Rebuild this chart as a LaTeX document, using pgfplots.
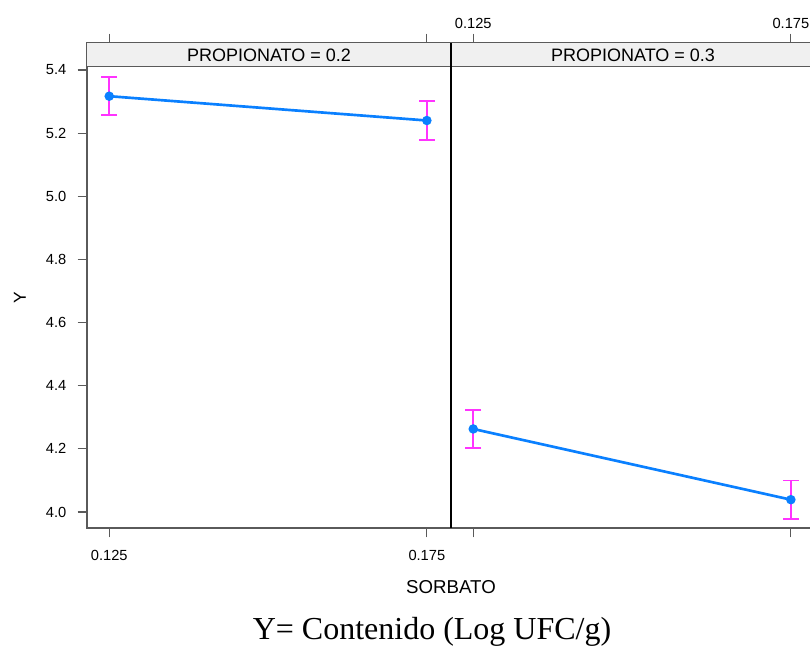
\documentclass[border=0pt]{standalone}
\usepackage{pgfplots}
\pgfplotsset{compat=1.18}
\usepackage{fontspec}
\setmainfont{Liberation Sans}
\newfontfamily\serifY{Liberation Serif}
\definecolor{lineblue}{HTML}{0A80FF}
\definecolor{errmag}{HTML}{FF33FF}
\definecolor{stripgray}{HTML}{F0F0F0}
\definecolor{framegray}{HTML}{5A5A5A}
\pgfplotsset{
  panel/.style={
    scale only axis, width=273pt, height=363.75pt,
    xmin=0.1215, xmax=0.1788, ymin=3.9493, ymax=5.4855,
    xtick={0.125,0.175}, xticklabels={0.125,0.175},
    xtick pos=both, tick align=outside,
    major tick length=7pt,
    axis line style={draw=framegray, line width=0.9pt},
    tick style={draw=framegray, line width=0.9pt},
    tick label style={font=\fontsize{11}{13}\selectfont},
    /pgf/number format/assume math mode=true,
    clip=false,
  },
  ebar/.style={draw=errmag, line width=1.25pt, mark=-, mark size=6pt,
    mark options={draw=errmag, line width=1.25pt}, forget plot},
}
\begin{document}
\begin{tikzpicture}
\path[use as bounding box] (0,0) rectangle (607.5pt,487.5pt);
\clip (0,0) rectangle (607.5pt,487.5pt);
% left panel
\begin{axis}[panel, at={(65.25pt,91.5pt)}, anchor=south west,
  xticklabel pos=left,
  xticklabel style={yshift=-6pt},
  ytick={4.0,4.2,4.4,4.6,4.8,5.0,5.2,5.4},
  yticklabels={4.0,4.2,4.4,4.6,4.8,5.0,5.2,5.4},
  yticklabel style={xshift=-5pt},
  ytick pos=left,
  xlabel={SORBATO}, ylabel={Y},
  xlabel style={font=\fontsize{14}{16}\selectfont, at={(rel axis cs:1,0)}, anchor=north, yshift=-36pt},
  ylabel style={font=\fontsize{13}{15}\selectfont, at={(axis description cs:-0.184,0.474)}, anchor=center},
]
\fill[stripgray] (rel axis cs:0,0.9508) rectangle (rel axis cs:1,1);
\draw[framegray, line width=0.9pt] (rel axis cs:0,0.9508) -- (rel axis cs:1,0.9508);
\node[font=\fontsize{13.5}{15}\selectfont] at (rel axis cs:0.5,0.9754) {PROPIONATO = 0.2};
% error bars (mean +- 0.06)
\addplot[ebar] coordinates {(0.125,5.257) (0.125,5.377)};
\addplot[ebar] coordinates {(0.175,5.179) (0.175,5.301)};
\addplot[lineblue, line width=2pt, mark=*, mark size=2.5pt, mark options={lineblue}]
  coordinates {(0.125,5.317) (0.175,5.240)};
\end{axis}
% right panel
\begin{axis}[panel, at={(338.25pt,91.5pt)}, anchor=south west,
  xticklabel pos=right,
  ytick=\empty,
]
\fill[stripgray] (rel axis cs:0,0.9508) rectangle (rel axis cs:1,1);
\draw[framegray, line width=0.9pt] (rel axis cs:0,0.9508) -- (rel axis cs:1,0.9508);
\node[font=\fontsize{13.5}{15}\selectfont] at (rel axis cs:0.5,0.9754) {PROPIONATO = 0.3};
\addplot[ebar] coordinates {(0.125,4.202) (0.125,4.324)};
\addplot[ebar] coordinates {(0.175,3.978) (0.175,4.100)};
\addplot[lineblue, line width=2pt, mark=*, mark size=2.5pt, mark options={lineblue}]
  coordinates {(0.125,4.263) (0.175,4.039)};
\draw[black, line width=1pt] (rel axis cs:0,0) -- (rel axis cs:0,1);
\end{axis}
\node[font=\serifY\fontsize{24}{28}\selectfont] at (324pt,13.5pt) {Y= Contenido (Log UFC/g)};
\end{tikzpicture}
\end{document}
